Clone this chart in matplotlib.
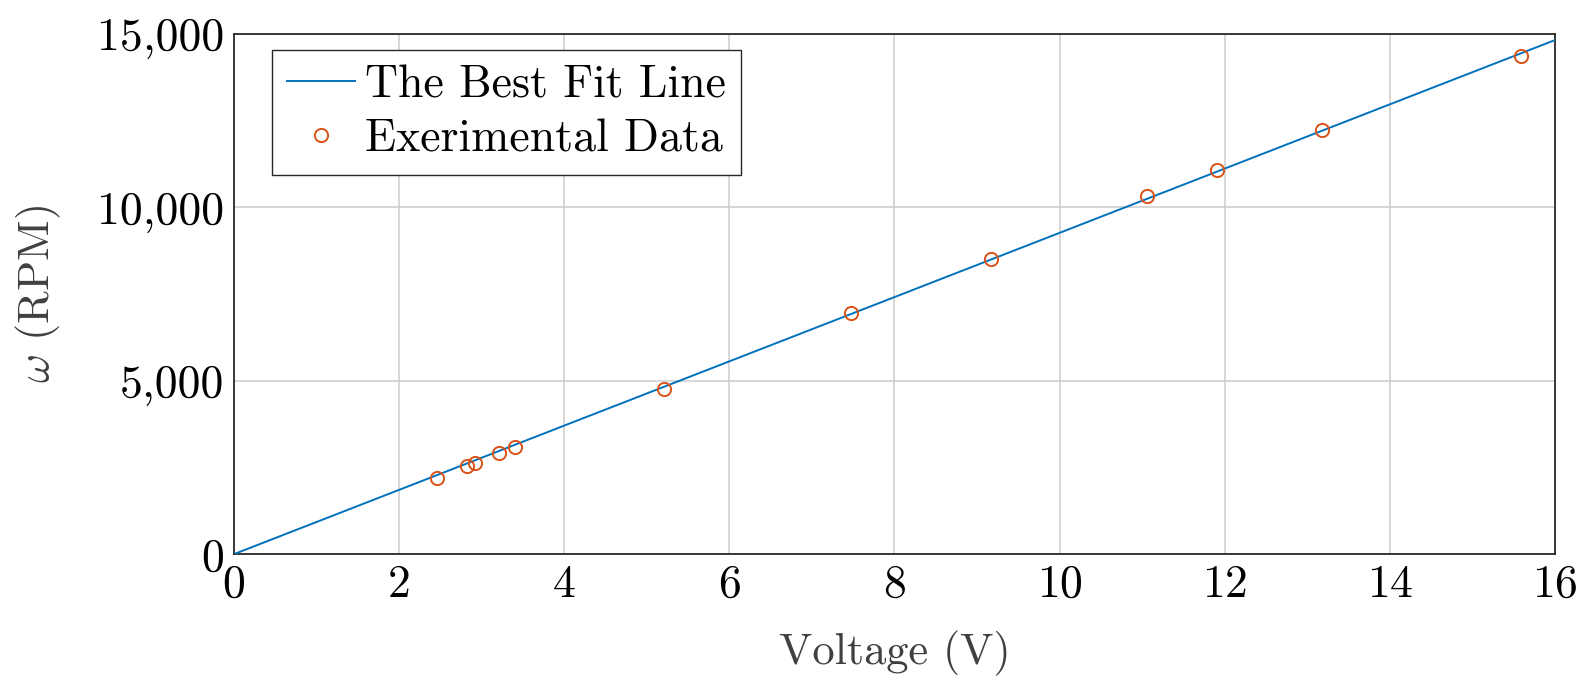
import matplotlib
matplotlib.use("Agg")
import matplotlib.pyplot as plt
from matplotlib.ticker import FuncFormatter, MultipleLocator

voltage = [2.46, 2.83, 2.92, 3.21, 3.41, 5.21, 7.48, 9.17, 11.06, 11.90, 13.18, 15.59]
rpm = [2200, 2537, 2632, 2912, 3093, 4766, 6948, 8513, 10338, 11088, 12241, 14375]
fit_x = [0, 16]
fit_slope = 926.7
fit_y = [v * fit_slope for v in fit_x]

plt.rcParams['font.family'] = ['cmr10']
plt.rcParams['mathtext.fontset'] = 'cm'
plt.rcParams['axes.formatter.use_mathtext'] = True

fig = plt.figure(figsize=(15.94, 6.92), dpi=100)
ax = fig.add_axes([0.1465, 0.199, 0.8292, 0.7519])

ax.plot(fit_x, fit_y, color='#0072BD', lw=1.4, label='The Best Fit Line', zorder=3)
ax.plot(voltage, rpm, linestyle='none', marker='o', ms=9.5, mfc='none', mec='#D95319',
        mew=1.4, label='Exerimental Data', zorder=4)

ax.set_xlim(0, 16)
ax.set_ylim(0, 15000)
ax.xaxis.set_major_locator(MultipleLocator(2))
ax.yaxis.set_major_locator(MultipleLocator(5000))
ax.yaxis.set_major_formatter(FuncFormatter(lambda v, p: f'{int(v):,}'))
ax.grid(True, color='#d0d0d0', lw=1.2)
ax.set_axisbelow(True)
ax.tick_params(length=0, labelsize=33, pad=7, colors='black')
for s in ax.spines.values():
    s.set_color('#1a1a1a')
    s.set_linewidth(1.2)

ax.set_xlabel('Voltage (V)', fontsize=32, color='#404040', labelpad=18)
ax.set_ylabel(r'$\omega$ (RPM)', fontsize=32, color='#404040', labelpad=24)

leg = ax.legend(loc='upper left', bbox_to_anchor=(0.029, 0.969), borderaxespad=0, fontsize=33,
                fancybox=False, framealpha=1, edgecolor='#262626',
                handlelength=1.5, handletextpad=0.22, borderpad=0.32, labelspacing=0.26)
leg.get_frame().set_linewidth(1.0)

fig.savefig('out.png', dpi=100)
